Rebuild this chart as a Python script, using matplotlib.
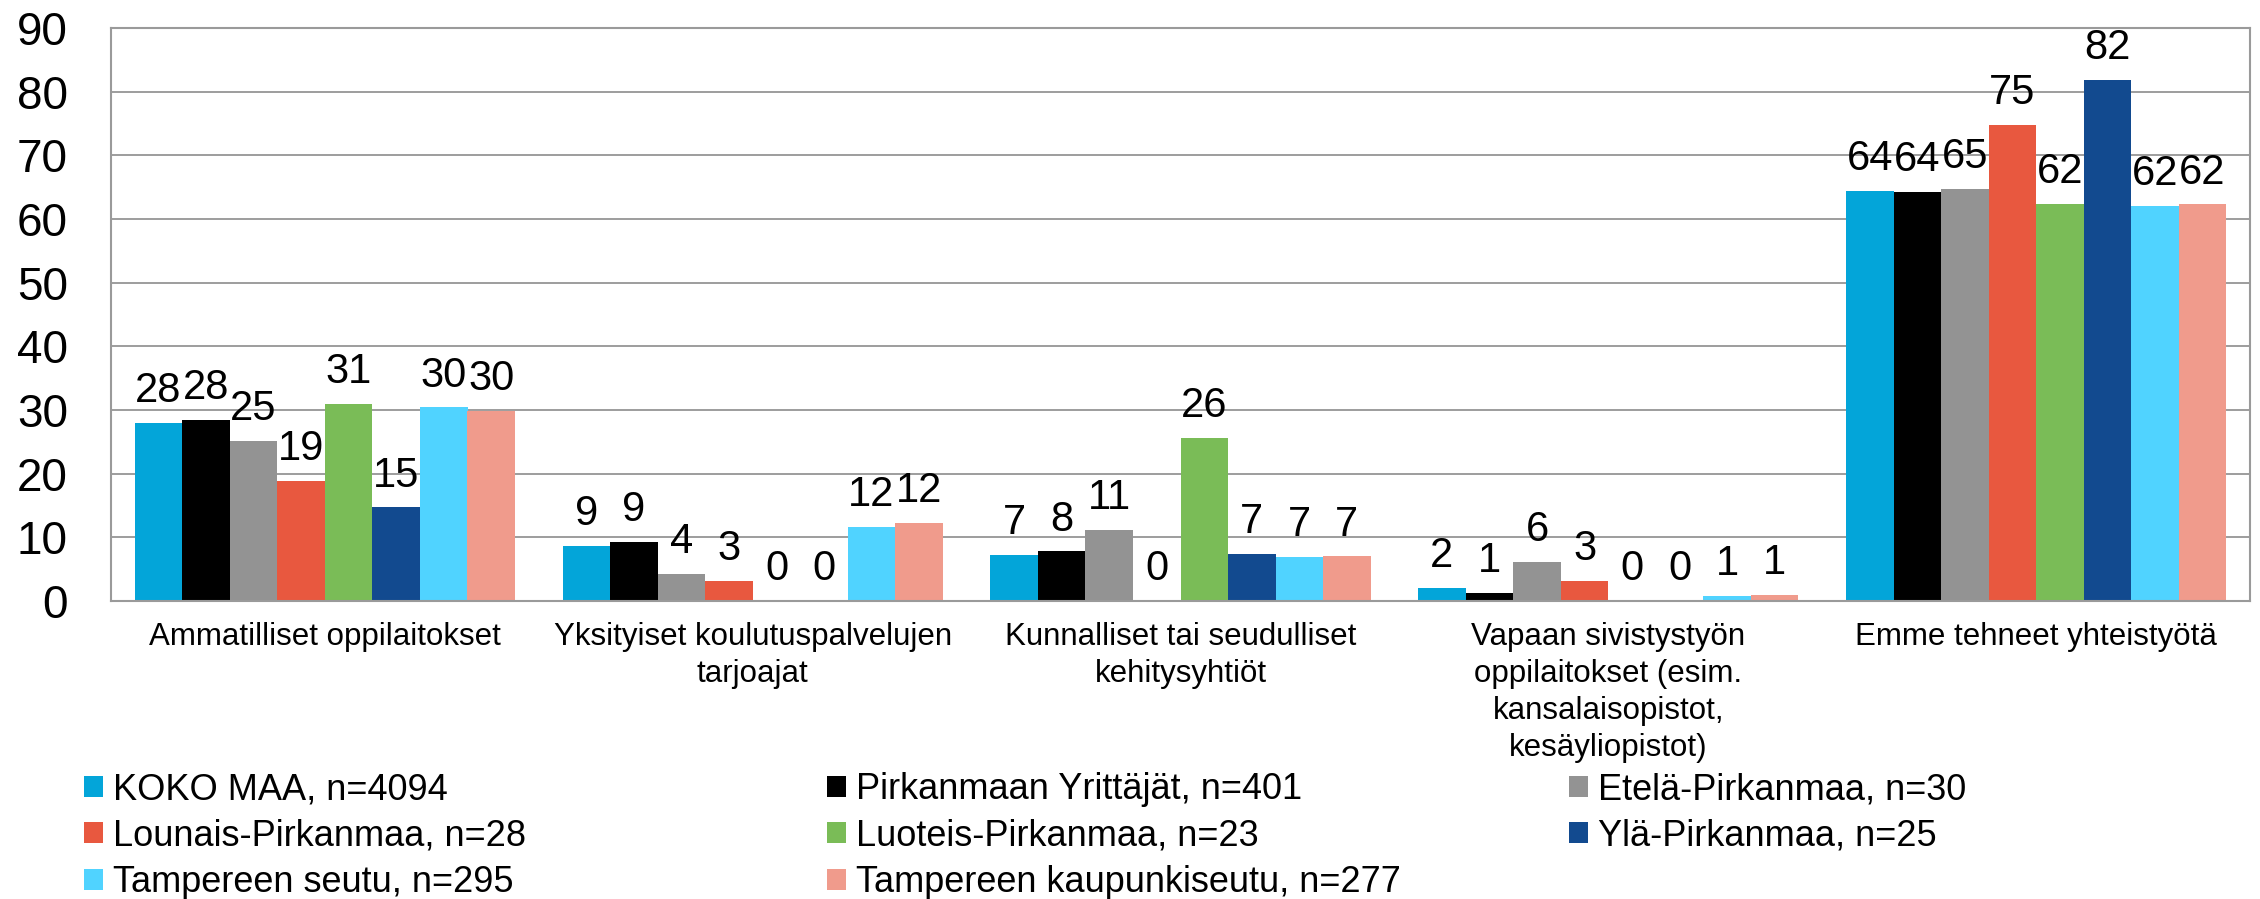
import numpy as np
import matplotlib.pyplot as plt
from matplotlib.patches import Patch

plt.rcParams['font.family'] = ['Liberation Sans', 'DejaVu Sans']

categories = ["Ammatilliset oppilaitokset",
              "Yksityiset koulutuspalvelujen\ntarjoajat",
              "Kunnalliset tai seudulliset\nkehitysyhtiöt",
              "Vapaan sivistystyön\noppilaitokset (esim.\nkansalaisopistot,\nkesäyliopistot)",
              "Emme tehneet yhteistyötä"]

series_names = ["KOKO MAA, n=4094", "Pirkanmaan Yrittäjät, n=401", "Etelä-Pirkanmaa, n=30",
                "Lounais-Pirkanmaa, n=28", "Luoteis-Pirkanmaa, n=23", "Ylä-Pirkanmaa, n=25",
                "Tampereen seutu, n=295", "Tampereen kaupunkiseutu, n=277"]

koko_maa = [28.0, 8.6, 7.2, 2.0, 64.4]
pirkanmaan_yrittajat = [28.4, 9.3, 7.8, 1.3, 64.3]
etela_pirkanmaa = [25.2, 4.3, 11.1, 6.2, 64.7]
lounais_pirkanmaa = [18.8, 3.1, 0.0, 3.2, 74.8]
luoteis_pirkanmaa = [31.0, 0.0, 25.6, 0.0, 62.4]
yla_pirkanmaa = [14.7, 0.0, 7.4, 0.0, 81.8]
tampereen_seutu = [30.4, 11.6, 6.9, 0.8, 62.1]
tampereen_kaupunkiseutu = [29.8, 12.3, 7.0, 0.9, 62.3]

series = [koko_maa, pirkanmaan_yrittajat, etela_pirkanmaa, lounais_pirkanmaa,
          luoteis_pirkanmaa, yla_pirkanmaa, tampereen_seutu, tampereen_kaupunkiseutu]
colors = ["#03A5D9", "#000000", "#939393", "#E8583F", "#7ABC57", "#124A8F", "#50D3FF", "#F09B8C"]

W, H = 2260, 899
fig = plt.figure(figsize=(W / 100, H / 100), dpi=100)
ax = fig.add_axes([111 / W, 1 - 601 / H, (2250 - 111) / W, (601 - 28) / H])

x = np.arange(len(categories))
w = 1 / 9
for i, (vals, col) in enumerate(zip(series, colors)):
    pos = x + (i - 3.5) * w
    ax.bar(pos, vals, width=w, color=col, linewidth=0, zorder=2)
    for px, v in zip(pos, vals):
        ax.annotate(f"{v:.0f}", (px, v), xytext=(0, 15), textcoords='offset points',
                    ha='center', va='baseline', fontsize=30)

ax.set_xlim(-0.5, 4.5)
ax.set_ylim(0, 90)
ax.set_yticks(range(0, 91, 10))
ax.tick_params(axis='y', length=0, pad=31, labelsize=33)
ax.set_xticks(x)
ax.set_xticklabels(categories, fontsize=22.5, linespacing=1.3)
ax.tick_params(axis='x', length=0, pad=15)
ax.yaxis.grid(True, color='#8C8C8C', linewidth=1.2)
ax.set_axisbelow(True)
for s in ax.spines.values():
    s.set_color('#9A9A9A')
    s.set_linewidth(1.5)

# legend: three columns of equal width, filled row by row
handles = [Patch(facecolor=c, edgecolor='none') for c in colors]
col_x = [84, 827, 1569]
for c in range(3):
    idx = list(range(c, len(series_names), 3))
    fig.legend([handles[k] for k in idx], [series_names[k] for k in idx],
               loc='upper left', bbox_to_anchor=(col_x[c] / W, 1 - 772 / H),
               frameon=False, borderpad=0, borderaxespad=0, fontsize=26,
               handlelength=0.53, handleheight=0.53, handletextpad=0.28,
               labelspacing=0.32)

fig.savefig("out.png", dpi=100)
